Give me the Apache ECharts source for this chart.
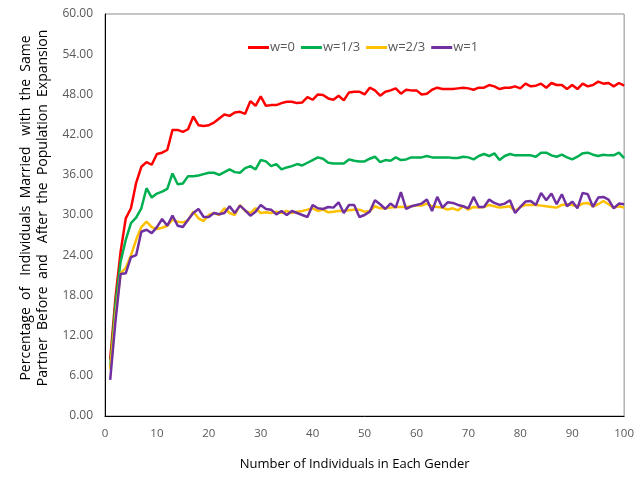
<!DOCTYPE html>
<html>
<head>
<meta charset="utf-8">
<script src="https://cdn.jsdelivr.net/npm/echarts@6/dist/echarts.min.js"></script>
<style>
  html, body { margin: 0; padding: 0; background: #fff; }
  #chart { width: 637px; height: 477px; }
</style>
</head>
<body>
<div id="chart"></div>
<script>
const xValues = Array.from({ length: 100 }, (_, i) => i + 1)
const seriesNames = ['w=0', 'w=1/3', 'w=2/3', 'w=1']
const xTicks = [0, 10, 20, 30, 40, 50, 60, 70, 80, 90, 100]
const yTicks = [0, 6, 12, 18, 24, 30, 36, 42, 48, 54, 60]

const w0 = [
  8.4, 17.5, 24.5, 29.5, 31, 34.8, 37.2, 37.9, 37.5, 39.1,
  39.3, 39.7, 42.7, 42.7, 42.4, 42.8, 44.7, 43.4, 43.3, 43.4,
  43.8, 44.4, 45, 44.8, 45.3, 45.4, 45.1, 47, 46.3, 47.7,
  46.3, 46.4, 46.4, 46.7, 46.9, 46.9, 46.7, 46.8, 47.6, 47.2,
  48.0, 47.9, 47.4, 47.2, 47.8, 47.1, 48.3, 48.4, 48.4, 48.0,
  49.0, 48.6, 47.8, 48.4, 48.6, 48.9, 48.1, 48.7, 48.6, 48.6,
  48.0, 48.1, 48.7, 49.0, 48.8, 48.8, 48.8, 48.9, 49.0, 48.9,
  48.7, 49.0, 49.0, 49.4, 49.2, 48.8, 49.0, 49.0, 49.2, 48.9,
  49.6, 49.2, 49.3, 49.6, 49.0, 49.7, 49.4, 49.4, 48.8, 49.4,
  48.8, 49.6, 49.2, 49.4, 49.9, 49.6, 49.7, 49.2, 49.7, 49.3
]
const w13 = [
  7.4, 16.5, 23, 26.3, 28.8, 29.6, 31, 34, 32.6, 33.2,
  33.5, 33.9, 36.2, 34.6, 34.7, 35.8, 35.8, 35.9, 36.1, 36.3,
  36.3, 36.0, 36.4, 36.8, 36.4, 36.3, 37.0, 37.3, 36.8, 38.2,
  38.0, 37.3, 37.6, 36.8, 37.1, 37.3, 37.6, 37.4, 37.8, 38.2,
  38.6, 38.4, 37.8, 37.7, 37.7, 37.7, 38.3, 38.1, 38.0, 38.0,
  38.4, 38.7, 37.9, 38.2, 38.1, 38.6, 38.2, 38.3, 38.6, 38.6,
  38.6, 38.8, 38.6, 38.6, 38.6, 38.6, 38.5, 38.5, 38.7, 38.6,
  38.3, 38.8, 39.1, 38.8, 39.2, 38.2, 38.8, 39.1, 38.9, 38.9,
  38.9, 38.9, 38.7, 39.3, 39.3, 38.9, 38.7, 39.0, 38.6, 38.3,
  38.7, 39.2, 39.3, 39.0, 38.8, 39.0, 38.9, 38.9, 39.3, 38.5
]
const w23 = [
  7.0, 15.0, 21.3, 22.1, 24.0, 26.3, 28.2, 29.0, 28.2, 27.9,
  28.1, 28.4, 29.3, 29.0, 28.9, 29.2, 30.5, 29.5, 29.1, 30.0,
  30.3, 30.0, 31.0, 30.3, 30.0, 31.5, 30.6, 30.3, 31.0, 30.3,
  30.4, 30.3, 30.5, 30.3, 30.6, 30.3, 30.5, 30.6, 30.8, 31.0,
  30.6, 30.8, 30.4, 30.5, 30.6, 30.6, 30.7, 30.8, 30.8, 30.5,
  30.6, 31.3, 31.0, 31.0, 31.1, 31.2, 31.2, 31.2, 31.3, 31.4,
  31.4, 31.7, 31.3, 31.2, 31.1, 30.8, 31.0, 30.7, 31.3, 30.8,
  31.2, 31.1, 31.2, 31.5, 31.3, 31.1, 31.2, 31.3, 30.6, 31.2,
  31.5, 31.5, 31.5, 31.4, 31.3, 31.2, 31.1, 31.5, 31.6, 31.5,
  31.3, 31.7, 31.8, 31.3, 31.6, 32.1, 31.6, 31.1, 31.3, 31.1
]
const w1 = [
  5.4, 14.0, 21.2, 21.3, 23.7, 24.0, 27.5, 27.8, 27.3, 28.2,
  29.4, 28.4, 29.9, 28.4, 28.2, 29.3, 30.3, 30.9, 29.7, 29.7,
  30.3, 30.1, 30.3, 31.3, 30.3, 31.4, 30.7, 29.9, 30.5, 31.5,
  30.9, 30.8, 30.1, 30.6, 30.0, 30.6, 30.3, 30.0, 29.7, 31.5,
  31.0, 30.9, 31.2, 31.1, 31.9, 30.3, 31.5, 31.5, 29.7, 30.0,
  30.5, 32.2, 31.6, 30.9, 31.7, 31.1, 33.4, 30.9, 31.3, 31.5,
  31.7, 32.3, 30.6, 32.7, 31.1, 31.9, 31.8, 31.5, 31.3, 31.0,
  32.7, 31.2, 31.2, 32.3, 31.8, 31.5, 31.7, 32.2, 30.3, 31.2,
  32.0, 32.1, 31.5, 33.3, 32.2, 33.2, 31.6, 33.1, 31.3, 32.0,
  31.0, 33.3, 33.1, 31.2, 32.6, 32.7, 32.3, 31.0, 31.7, 31.6
]

const colors = ['#ff0000', '#00b050', '#ffc000', '#7030a0']
const allValues = [w0, w13, w23, w1]

const chart = echarts.init(document.getElementById('chart'))

const option = {
  animation: false,
  backgroundColor: '#fff',
  textStyle: { fontFamily: 'Open Sans' },
  grid: {
    left: 105, right: 11, top: 14, bottom: 61,
    show: true, borderColor: '#8c8c8c', borderWidth: 1
  },
  legend: {
    top: 36, left: 243,
    icon: 'rect',
    itemWidth: 21, itemHeight: 3, itemGap: 6,
    textStyle: { color: '#595959', fontSize: 13, padding: [0, 0, 0, -4] },
    data: seriesNames
  },
  xAxis: {
    type: 'value',
    min: xTicks[0], max: xTicks[xTicks.length - 1], interval: 10,
    name: 'Number of Individuals in Each Gender',
    nameLocation: 'middle', nameGap: 42,
    nameTextStyle: { color: '#000', fontSize: 13, padding: [0, 20, 0, 0] },
    axisLine: { show: true, lineStyle: { color: '#000', width: 1 } },
    axisTick: { show: false },
    splitLine: { show: false },
    axisLabel: { color: '#595959', fontSize: 11.5, margin: 12 }
  },
  yAxis: {
    type: 'value',
    min: yTicks[0], max: yTicks[yTicks.length - 1], interval: 6,
    name: 'Percentage  of   Individuals  Married   with  the  Same\nPartner  Before  and   After  the  Population  Expansion',
    nameLocation: 'middle', nameGap: 53, nameRotate: 90,
    nameTextStyle: { color: '#000', fontSize: 14, lineHeight: 17, padding: [0, 0, 0, 14] },
    axisLine: { show: true, lineStyle: { color: '#000', width: 1 } },
    axisTick: { show: false },
    splitLine: { show: false },
    axisLabel: {
      color: '#595959', fontSize: 12, margin: 12,
      formatter: v => v.toFixed(2)
    }
  },
  series: seriesNames.map((name, i) => ({
    name,
    type: 'line',
    symbol: 'none',
    lineStyle: { color: colors[i], width: 2.5 },
    itemStyle: { color: colors[i] },
    data: xValues.map((x, j) => [x, allValues[i][j]])
  }))
}

chart.setOption(option)
</script>
</body>
</html>
